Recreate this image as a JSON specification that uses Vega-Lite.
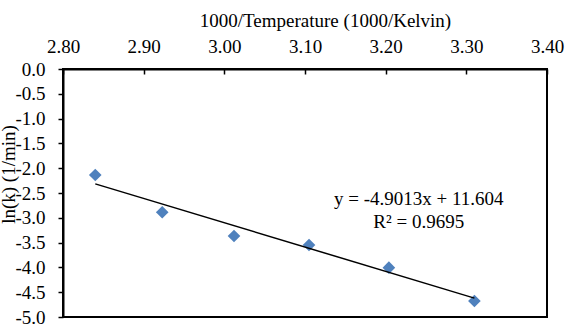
{
  "$schema": "https://vega.github.io/schema/vega-lite/v6.json",
  "width": 484,
  "height": 248,
  "autosize": {"type": "none"},
  "padding": {"left": 63, "top": 69, "right": 26, "bottom": 7},
  "background": "white",
  "config": {
    "font": "Liberation Serif",
    "view": {"stroke": "black", "strokeWidth": 2},
    "axis": {
      "domainColor": "black",
      "domainWidth": 2,
      "tickColor": "black",
      "tickWidth": 1.5,
      "labelColor": "black",
      "titleColor": "black",
      "labelFont": "Liberation Serif",
      "titleFont": "Liberation Serif",
      "labelFontSize": 19,
      "titleFontSize": 19,
      "titleFontWeight": "normal",
      "grid": false
    }
  },
  "data": {
    "values": [
      {"inv_temp": 2.840, "ln_k": -2.137},
      {"inv_temp": 2.923, "ln_k": -2.889},
      {"inv_temp": 3.012, "ln_k": -3.367},
      {"inv_temp": 3.105, "ln_k": -3.548},
      {"inv_temp": 3.204, "ln_k": -4.006},
      {"inv_temp": 3.310, "ln_k": -4.677}
    ]
  },
  "encoding": {
    "x": {
      "field": "inv_temp",
      "type": "quantitative",
      "scale": {"domain": [2.8, 3.4], "nice": false, "zero": false},
      "axis": {
        "orient": "top",
        "values": [2.8, 2.9, 3.0, 3.1, 3.2, 3.3, 3.4],
        "labelExpr": "format(datum.value, '.2f')",
        "tickSize": -5,
        "labelPadding": 22,
        "labelBaseline": "alphabetic",
        "labelFlush": false,
        "title": "1000/Temperature (1000/Kelvin)",
        "titleX": 262,
        "titleY": -43,
        "titleAlign": "center",
        "titleBaseline": "alphabetic"
      }
    },
    "y": {
      "field": "ln_k",
      "type": "quantitative",
      "scale": {"domain": [-5, 0], "nice": false, "zero": false},
      "axis": {
        "orient": "left",
        "values": [-5, -4.5, -4, -3.5, -3, -2.5, -2, -1.5, -1, -0.5, 0],
        "labelExpr": "replace(format(datum.value, '.1f'), '−', '-')",
        "tickSize": 5,
        "labelPadding": 13,
        "labelFlush": false,
        "title": "ln(k) (1/min)",
        "titleX": -55,
        "titleY": 105,
        "titleAngle": -90,
        "titleAlign": "center",
        "titleBaseline": "middle"
      }
    }
  },
  "layer": [
    {
      "mark": {"type": "point", "shape": "diamond", "filled": true, "size": 160, "color": "#4F81BD", "opacity": 1}
    },
    {
      "data": {"values": [{"inv_temp": 2.840, "ln_k": -2.316}, {"inv_temp": 3.310, "ln_k": -4.619}]},
      "mark": {"type": "line", "color": "black", "strokeWidth": 1.5}
    },
    {
      "transform": [{"filter": "datum.inv_temp > 3.3"}],
      "mark": {"type": "text", "fontSize": 19, "fontWeight": "normal", "font": "Liberation Serif", "color": "black", "align": "center", "baseline": "middle"},
      "encoding": {
        "x": {"datum": 3.241},
        "y": {"datum": -2.62},
        "text": {"value": "y = -4.9013x + 11.604"}
      }
    },
    {
      "transform": [{"filter": "datum.inv_temp > 3.3"}],
      "mark": {"type": "text", "fontSize": 19, "fontWeight": "normal", "font": "Liberation Serif", "color": "black", "align": "center", "baseline": "middle"},
      "encoding": {
        "x": {"datum": 3.241},
        "y": {"datum": -3.085},
        "text": {"value": "R² = 0.9695"}
      }
    }
  ]
}
